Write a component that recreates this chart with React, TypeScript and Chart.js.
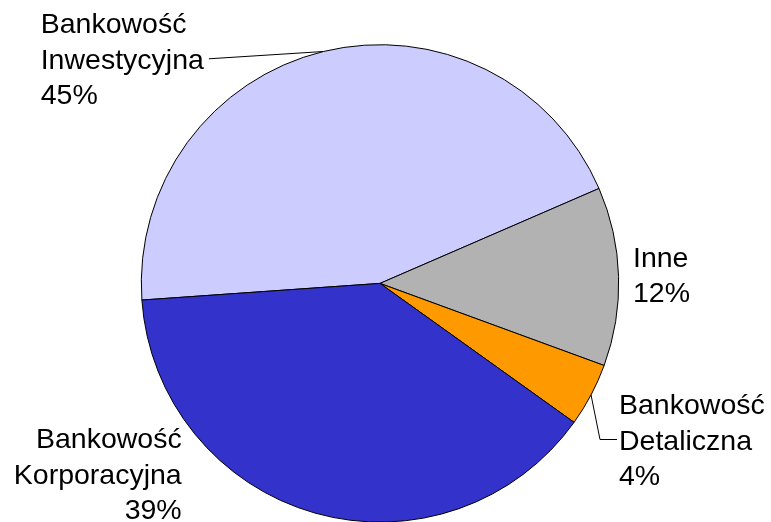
import React, { useEffect, useRef } from "react";
import { Chart, ArcElement, PieController } from "chart.js";

Chart.register(ArcElement, PieController);

const categories: string[][] = [
  ["Bankowość", "Inwestycyjna"],
  ["Inne"],
  ["Bankowość", "Detaliczna"],
  ["Bankowość", "Korporacyjna"],
];
const values: number[] = [44.6, 12.1, 4.3, 39.0];
const colors: string[] = ["#CCCCFF", "#B2B2B2", "#FF9900", "#3333CC"];

// label layout relative to pie centre: align, offset of first baseline, leader style
const labelAlign: ("left" | "right")[] = ["left", "left", "left", "right"];
const labelDx: number[] = [-339.3, 253, 239, -198.3];
const labelDy: number[] = [-250.1, -16.7, 130.6, 164.6];
const labelLeader: ("straight" | "none" | "elbow")[] = ["straight", "none", "elbow", "none"];

const FONT = "28.5px 'Liberation Sans', Arial, sans-serif";
const LINE_H = 35.5;

const labelPlugin = {
  id: "pieLabels",
  afterDatasetsDraw(chart: any) {
    const ctx = chart.ctx as CanvasRenderingContext2D;
    const meta = chart.getDatasetMeta(0);
    const total = values.reduce((a, b) => a + b, 0);
    ctx.save();
    ctx.font = FONT;
    ctx.fillStyle = "#000";
    ctx.strokeStyle = "#000";
    ctx.lineWidth = 1;
    ctx.textBaseline = "alphabetic";
    meta.data.forEach((arc: any, i: number) => {
      const { x, y, startAngle, endAngle, outerRadius } = arc.getProps(
        ["x", "y", "startAngle", "endAngle", "outerRadius"],
        true
      );
      const mid = (startAngle + endAngle) / 2;
      const ax = x + outerRadius * Math.cos(mid);
      const ay = y + outerRadius * Math.sin(mid);
      const pct = Math.round((values[i] / total) * 100) + "%";
      const lines = [...categories[i], pct];
      const tx = x + labelDx[i];
      const ty = y + labelDy[i];
      ctx.textAlign = labelAlign[i];
      lines.forEach((l, k) => ctx.fillText(l, tx, ty + k * LINE_H));
      const midLine2 = ty + LINE_H - 10;
      if (labelLeader[i] === "straight") {
        const w = ctx.measureText(categories[i][1]).width;
        ctx.beginPath();
        ctx.moveTo(tx + w + 5, midLine2);
        ctx.lineTo(ax, ay);
        ctx.stroke();
      } else if (labelLeader[i] === "elbow") {
        ctx.beginPath();
        ctx.moveTo(ax, ay);
        ctx.lineTo(tx - 19, midLine2);
        ctx.lineTo(tx - 2, midLine2);
        ctx.stroke();
      }
    });
    ctx.restore();
  },
};

export default function App() {
  const ref = useRef<HTMLCanvasElement>(null);
  useEffect(() => {
    if (!ref.current) return;
    const chart = new Chart(ref.current, {
      type: "pie",
      data: {
        labels: categories.map((c) => c.join(" ")),
        datasets: [
          {
            data: values,
            backgroundColor: colors,
            borderColor: "#000000",
            borderWidth: 1,
            rotation: 266,
            radius: 238.7,
            clip: false,
          } as any,
        ],
      },
      options: {
        responsive: false,
        devicePixelRatio: 1,
        animation: false,
        layout: { padding: { left: 0, right: 11, top: 44.8, bottom: 0 } },
        plugins: { legend: { display: false }, tooltip: { enabled: false } },
      } as any,
      plugins: [labelPlugin],
    });
    return () => chart.destroy();
  }, []);
  return (
    <div style={{ position: "absolute", left: 0, top: 0, width: 771, height: 522, background: "#fff" }}>
      <canvas ref={ref} width={771} height={522} style={{ display: "block" }} />
    </div>
  );
}
